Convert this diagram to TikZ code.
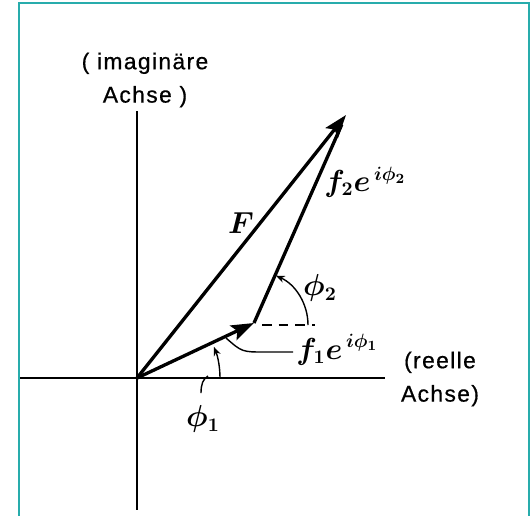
\documentclass[tikz,border=0pt]{standalone}
\usepackage{amsmath}
\usepackage{amssymb}
\usepackage{fontspec}
\setsansfont{Liberation Sans}
\usetikzlibrary{calc}
\usetikzlibrary{arrows.meta}
\usetikzlibrary{positioning}
\definecolor{frameteal}{RGB}{40,172,172}

\begin{document}
\begin{tikzpicture}[x=0.02cm,y=-0.02cm,>={Stealth[length=13pt,width=9pt,inset=2.5pt]},
	  vec/.style={line width=1.9pt},
	  axis/.style={line width=0.8pt},
	  angle arc/.style={line width=0.8pt,-{Stealth[length=5pt,width=4pt]}},
	  axis label/.style={font=\sffamily\fontsize{13}{19}\selectfont\addfontfeatures{LetterSpace=6,FakeBold=0.6},align=center,inner sep=0pt},
	  math label/.style={font=\fontsize{16}{18}\selectfont\boldmath,inner sep=0pt}]

	  \useasboundingbox (0,0) rectangle (530,515);
	  \draw[frameteal,line width=1.5pt] (19,3) rectangle (529,520);

	  \coordinate (O) at (137,378);
	  \coordinate (P1) at (254,323);
	  \coordinate (T) at (346,115);
	  \coordinate (y top) at (137,111);
	  \coordinate (y bottom) at (137,510);
	  \coordinate (x left) at (20,378);
	  \coordinate (x right) at (385,378);

	  \node[axis label] (im label) at (145,80) {( imaginäre\\Achse )};
	  \node[axis label] (re label) at (440,379) {(reelle\\Achse)};
	  \node[math label] (F label) at (241,223) {$F$};
	  \node[math label, anchor=west] (f2 label) at (324,182) {$f_2e^{\,i\phi_2}$};
	  \node[math label, anchor=base west] (f1 label) at (296,359) {$f_1e^{\,i\phi_1}$};
	  \node[math label] (phi2 label) at (320,288) {$\phi_2$};
	  \node[math label] (phi1 label) at (203,419) {$\phi_1$};

	  \path[axis]
	    	(y top) 	edge 	(y bottom)
	 	(x left)	edge  	(x right);

	  \path[vec]
	    	(O) 	edge[->] 	(T)
	 	(O)	edge[->]  	(P1)
	 	(P1)	edge[shorten >=6pt]  	(T);

	  % angle marks and pointers
	  \draw[axis,dash pattern=on 5.5pt off 4pt] ($(P1)+(8,2)$) -- ($(P1)+(61,2)$);
	  \draw[angle arc] ($(P1)+(54,2)$) arc[start angle=0,end angle=-66,radius=54];
	  \draw[angle arc] ($(O)+(83,0)$) arc[start angle=0,end angle=-22,radius=83];
	  \coordinate (f1 end) at (293,352);
	  \coordinate (f1 start) at (226,338);
	  \draw[axis] (f1 end) -- (265,352) .. controls (242,352) .. (f1 start);
	  \coordinate (phi1 end) at (208,376);
	  \draw[axis] (phi1 label.north) ++(-2,-12) .. controls (201,384) and (203,379) .. (phi1 end);
	\end{tikzpicture}
\end{document}
